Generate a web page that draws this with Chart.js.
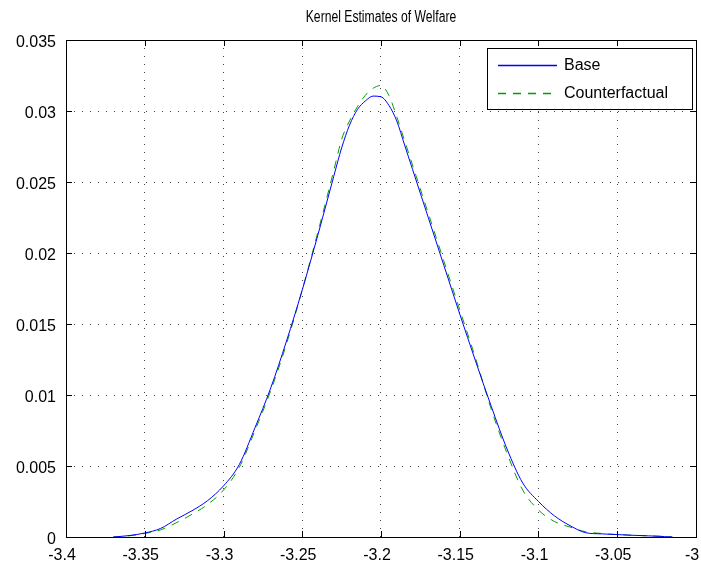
<!DOCTYPE html>
<html>
<head>
<meta charset="utf-8">
<script src="https://cdn.jsdelivr.net/npm/chart.js@4.4.1/dist/chart.umd.min.js"></script>
<style>
  html, body { margin: 0; padding: 0; background: #fff; }
  #wrap { width: 701px; height: 567px; }
</style>
</head>
<body>
<div id="wrap"><canvas id="kernelChart" width="701" height="567"></canvas></div>
<script>
var chartTitle = "Kernel Estimates of Welfare";

// x grid (welfare) shared by both kernel estimates
var xValues = [
  -3.37, -3.36, -3.35, -3.34, -3.33, -3.32, -3.31, -3.30, -3.29, -3.28,
  -3.27, -3.26, -3.25, -3.24, -3.23, -3.225, -3.22, -3.215, -3.21, -3.205,
  -3.20, -3.195, -3.19, -3.185, -3.18, -3.17, -3.16, -3.15, -3.14, -3.13,
  -3.12, -3.11, -3.10, -3.09, -3.08, -3.07, -3.06, -3.05, -3.04, -3.03,
  -3.02, -3.015
];

var baseValues = [
  0, 0.0001, 0.00028, 0.0006, 0.00125, 0.00185, 0.00257, 0.0036, 0.0051, 0.0077,
  0.0105, 0.0138, 0.0174, 0.0213, 0.0254, 0.0274, 0.0290, 0.0301, 0.0307, 0.03105,
  0.0310, 0.0304, 0.0293, 0.0276, 0.0259, 0.0225, 0.0191, 0.0157, 0.0124, 0.0092,
  0.0062, 0.0038, 0.0025, 0.0015, 0.0008, 0.0003, 0.00022, 0.00017, 0.00012, 0.00008,
  0.00003, 0
];

var counterfactualValues = [
  0, 0.00008, 0.00025, 0.0005, 0.001, 0.0016, 0.0023, 0.0033, 0.0049, 0.0075,
  0.0103, 0.0136, 0.0174, 0.0215, 0.0258, 0.0280, 0.0293, 0.0303, 0.0311, 0.0316,
  0.0318, 0.0311, 0.0296, 0.0279, 0.0262, 0.0228, 0.0194, 0.0160, 0.0126, 0.0090,
  0.0059, 0.0033, 0.0019, 0.0011, 0.0007, 0.00037, 0.00025, 0.00017, 0.00012, 0.00008,
  0.00004, 0
];

var xTicks = [-3.4, -3.35, -3.3, -3.25, -3.2, -3.15, -3.1, -3.05, -3];
var xTickLabels = ["-3.4", "-3.35", "-3.3", "-3.25", "-3.2", "-3.15", "-3.1", "-3.05", "-3"];
var yTicks = [0, 0.005, 0.01, 0.015, 0.02, 0.025, 0.03, 0.035];
var yTickLabels = ["0", "0.005", "0.01", "0.015", "0.02", "0.025", "0.03", "0.035"];

Chart.defaults.font.family = "'Liberation Sans', Arial, sans-serif";
Chart.defaults.color = "#000";

function toPoints(xs, ys) {
  var pts = [];
  for (var i = 0; i < xs.length; i++) {
    pts.push({ x: xs[i], y: ys[i] });
  }
  return pts;
}

// box round the axes, inward ticks on all four sides, title and legend
var matlabFrame = {
  id: "matlabFrame",
  afterDraw: function (chart) {
    var ctx = chart.ctx;
    var a = chart.chartArea;
    var sx = chart.scales.x;
    var sy = chart.scales.y;
    var tl = 6;

    ctx.save();
    ctx.strokeStyle = "#000";
    ctx.lineWidth = 1;
    ctx.setLineDash([]);

    ctx.beginPath();
    xTicks.forEach(function (v) {
      var px = Math.round(sx.getPixelForValue(v)) + 0.5;
      ctx.moveTo(px, a.bottom);
      ctx.lineTo(px, a.bottom - tl);
      ctx.moveTo(px, a.top);
      ctx.lineTo(px, a.top + tl);
    });
    yTicks.forEach(function (v) {
      var py = Math.round(sy.getPixelForValue(v)) + 0.5;
      ctx.moveTo(a.left, py);
      ctx.lineTo(a.left + tl, py);
      ctx.moveTo(a.right, py);
      ctx.lineTo(a.right - tl, py);
    });
    ctx.stroke();

    ctx.strokeRect(Math.round(a.left) + 0.5, Math.round(a.top) + 0.5,
      Math.round(a.right - a.left), Math.round(a.bottom - a.top));

    // title, slightly condensed like the original export
    ctx.save();
    ctx.translate((a.left + a.right) / 2, 18);
    ctx.scale(0.76, 1);
    ctx.font = "16px 'Liberation Sans', Arial, sans-serif";
    ctx.textAlign = "center";
    ctx.textBaseline = "middle";
    ctx.fillStyle = "#000";
    ctx.fillText(chartTitle, 0, 0);
    ctx.restore();

    // legend
    var lx = 487, ly = 48, lw = 205, lh = 61;
    ctx.fillStyle = "#fff";
    ctx.fillRect(lx, ly, lw, lh);
    ctx.strokeRect(lx + 0.5, ly + 0.5, lw, lh);

    ctx.font = "16px 'Liberation Sans', Arial, sans-serif";
    ctx.textBaseline = "middle";
    ctx.textAlign = "left";
    chart.data.datasets.forEach(function (ds, i) {
      var rowY = Math.round(ly + 17 + i * 27.5) + 0.5;
      ctx.save();
      ctx.strokeStyle = ds.borderColor;
      ctx.lineWidth = 1.5;
      ctx.setLineDash(ds.borderDash || []);
      ctx.beginPath();
      ctx.moveTo(lx + 11, rowY);
      ctx.lineTo(lx + 70, rowY);
      ctx.stroke();
      ctx.restore();
      ctx.fillStyle = "#000";
      ctx.fillText(ds.label, lx + 77, rowY + 0.5);
    });
    ctx.restore();
  },
};

new Chart(document.getElementById("kernelChart"), {
  type: "line",
  data: {
    datasets: [
      {
        label: "Base",
        data: toPoints(xValues, baseValues),
        borderColor: "#0000ff",
        borderWidth: 1,
        pointRadius: 0,
        cubicInterpolationMode: "monotone",
      },
      {
        label: "Counterfactual",
        data: toPoints(xValues, counterfactualValues),
        borderColor: "#00a000",
        borderWidth: 1,
        borderDash: [8, 7],
        pointRadius: 0,
        cubicInterpolationMode: "monotone",
      },
    ],
  },
  plugins: [matlabFrame],
  options: {
    responsive: false,
    animation: false,
    layout: {
      padding: { left: 0, right: 5, top: 40, bottom: 0 },
    },
    plugins: {
      legend: { display: false },
      tooltip: { enabled: false },
      title: { display: false },
    },
    scales: {
      x: {
        type: "linear",
        min: -3.4,
        max: -3,
        afterBuildTicks: function (axis) {
          axis.ticks = xTicks.map(function (v) { return { value: v }; });
        },
        afterFit: function (scale) {
          scale.height = 30;
          scale.paddingLeft = 0;
          scale.paddingRight = 0;
        },
        ticks: {
          autoSkip: false,
          maxRotation: 0,
          padding: 9,
          labelOffset: -4,
          font: { size: 16 },
          callback: function (value, index) {
            return xTickLabels[index];
          },
        },
        grid: {
          color: "#444",
          lineWidth: 1,
          drawTicks: false,
        },
        border: { display: false, dash: [1, 7] },
      },
      y: {
        type: "linear",
        min: 0,
        max: 0.035,
        afterBuildTicks: function (axis) {
          axis.ticks = yTicks.map(function (v) { return { value: v }; });
        },
        afterFit: function (scale) {
          scale.width = 66;
          scale.paddingTop = 0;
          scale.paddingBottom = 0;
        },
        ticks: {
          autoSkip: false,
          padding: 10,
          labelOffset: 3,
          font: { size: 16 },
          callback: function (value, index) {
            return yTickLabels[index];
          },
        },
        grid: {
          color: "#444",
          lineWidth: 1,
          drawTicks: false,
        },
        border: { display: false, dash: [1, 7] },
      },
    },
  },
});
</script>
</body>
</html>
